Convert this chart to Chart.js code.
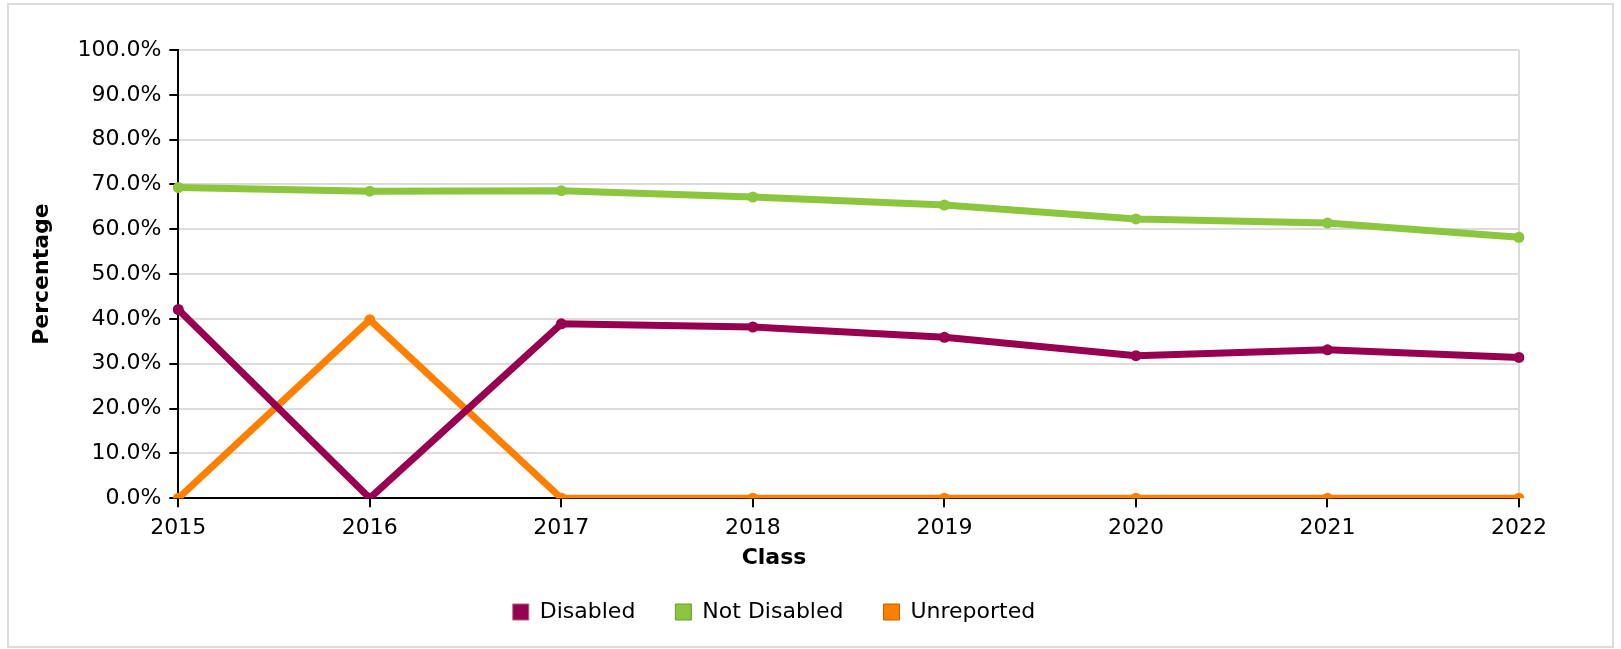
<!DOCTYPE html>
<html>
<head>
<meta charset="utf-8">
<script src="https://cdn.jsdelivr.net/npm/chart.js@4/dist/chart.umd.min.js"></script>
<style>
  html, body { margin: 0; padding: 0; background: #fff; }
  #frame { position: absolute; left: 7px; top: 3px; width: 1603px; height: 641px; border: 2px solid #dcdcdc; }
  #wrap { position: absolute; left: 0; top: 0; width: 1621px; height: 649px; }
</style>
</head>
<body>
<div id="frame"></div>
<div id="wrap"><canvas id="chart"></canvas></div>
<script>
// Data
const classes = ['2015', '2016', '2017', '2018', '2019', '2020', '2021', '2022'];
const disabled = [42.1, 0, 38.9, 38.2, 35.9, 31.8, 33.1, 31.4];
const notDisabled = [69.3, 68.5, 68.6, 67.2, 65.4, 62.3, 61.4, 58.2];
const unreported = [0, 39.8, 0, 0, 0, 0, 0, 0];
const yTicks = [0, 10, 20, 30, 40, 50, 60, 70, 80, 90, 100];

Chart.defaults.font.family = '"DejaVu Sans", sans-serif';
Chart.defaults.font.size = 22;
Chart.defaults.color = '#000';

function series(label, data, color, edge) {
    return {
        label: label,
        data: data,
        borderColor: color,
        backgroundColor: color,
        legendEdge: edge,
        borderWidth: 7,
        pointRadius: 5.5,
        pointBorderWidth: 0,
        pointBackgroundColor: color,
        tension: 0
    };
}

const ctx = document.getElementById('chart').getContext('2d');
new Chart(ctx, {
    type: 'line',
    data: {
        labels: classes,
        datasets: [
            series('Disabled', disabled, '#970050', '#b06080'),
            series('Not Disabled', notDisabled, '#8cc63f', '#6a9a30'),
            series('Unreported', unreported, '#ff8000', '#c06000')
        ]
    },
    options: {
        responsive: true,
        maintainAspectRatio: false,
        animation: false,
        layout: {
            padding: { left: 29, right: 102, top: 50, bottom: 16 }
        },
        plugins: {
            tooltip: { enabled: false },
            title: {
                display: true,
                text: 'Class',
                position: 'bottom',
                weight: 500,
                font: { size: 22, weight: 'bold' },
                padding: { top: -5, bottom: -10 }
            },
            legend: {
                position: 'bottom',
                labels: {
                    boxWidth: 16,
                    boxHeight: 16,
                    padding: 40,
                    font: { size: 22 },
                    generateLabels: function (chart) {
                        return chart.data.datasets.map(function (ds, i) {
                            return {
                                text: ds.label,
                                fillStyle: ds.backgroundColor,
                                strokeStyle: ds.legendEdge,
                                lineWidth: 1,
                                hidden: false,
                                datasetIndex: i
                            };
                        });
                    }
                }
            }
        },
        scales: {
            x: {
                z: 1,
                offset: false,
                grid: {
                    color: function (c) { return c.index === classes.length - 1 ? '#dcdcdc' : 'rgba(0,0,0,0)'; },
                    lineWidth: 2,
                    tickColor: '#000',
                    tickLength: 9,
                    drawOnChartArea: true
                },
                border: { color: '#000', width: 2 },
                ticks: { padding: 8, maxRotation: 0, font: { size: 22 } }
            },
            y: {
                min: 0,
                max: 100,
                afterBuildTicks: function (axis) {
                    axis.ticks = yTicks.map(function (v) { return { value: v }; });
                },
                grid: {
                    color: '#dcdcdc',
                    lineWidth: 2,
                    tickColor: '#000',
                    tickLength: 9
                },
                border: { color: '#000', width: 2 },
                ticks: {
                    padding: 8,
                    font: { size: 22 },
                    callback: function (v) { return v.toFixed(1) + '%'; }
                },
                title: {
                    display: true,
                    text: 'Percentage',
                    font: { size: 22, weight: 'bold' },
                    padding: { top: 0, bottom: 14 }
                }
            }
        }
    }
});
</script>
</body>
</html>
